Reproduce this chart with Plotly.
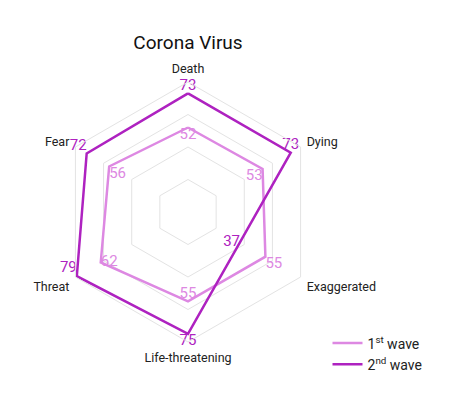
import plotly.graph_objects as go

# Data
categories = ["Death", "Dying", "Exaggerated", "Life-threatening", "Threat", "Fear"]
wave1 = [52, 53, 55, 55, 62, 56]
wave2 = [73, 73, 37, 75, 79, 72]
series_names = ["1<sup>st</sup> wave", "2<sup>nd</sup> wave"]

LIGHT = "#DD88E2"
DARK = "#AE22C0"
GRID = "#E3E3E3"
FONT = "Roboto"


def closed(values):
    return list(values) + [values[0]]


fig = go.Figure()

fig.add_trace(go.Scatterpolar(
    r=closed(wave1),
    theta=closed(categories),
    mode="lines+text",
    name=series_names[0],
    line=dict(color=LIGHT, width=2.5),
    text=[str(v) for v in wave1] + [""],
    textposition=["bottom center", "bottom left", "bottom right",
                  "top center", "middle right", "bottom right", "top center"],
    textfont=dict(color=LIGHT, size=15, family=FONT),
    cliponaxis=False,
))

fig.add_trace(go.Scatterpolar(
    r=closed(wave2),
    theta=closed(categories),
    mode="lines+text",
    name=series_names[1],
    line=dict(color=DARK, width=2.5),
    text=[str(v) for v in wave2] + [""],
    textposition=["top center", "top center", "middle left",
                  "bottom center", "top left", "top left", "top center"],
    textfont=dict(color=DARK, size=15, family=FONT),
    cliponaxis=False,
))

fig.update_layout(
    width=450,
    height=400,
    margin=dict(l=0, r=0, t=0, b=0),
    paper_bgcolor="white",
    plot_bgcolor="white",
    font=dict(family=FONT, color="#222222"),
    title=dict(
        text="Corona Virus",
        x=0.40, xanchor="center",
        y=0.915, yanchor="middle",
        font=dict(size=19, color="#111111", family=FONT),
    ),
    polar=dict(
        domain=dict(x=[0.111, 0.689], y=[0.165, 0.815]),
        bgcolor="white",
        gridshape="linear",
        radialaxis=dict(
            range=[0, 80],
            tickvals=[20, 40, 60, 80],
            showticklabels=False,
            ticks="",
            showline=False,
            gridcolor=GRID,
            gridwidth=1,
        ),
        angularaxis=dict(
            direction="clockwise",
            rotation=90,
            showgrid=False,
            showline=True,
            linecolor=GRID,
            linewidth=1,
            ticks="outside",
            ticklen=4,
            tickcolor="rgba(0,0,0,0)",
            tickfont=dict(size=12.5, color="#222222", family=FONT),
        ),
    ),
    legend=dict(
        x=0.71, xanchor="left",
        y=0.135, yanchor="middle",
        font=dict(size=14, color="#222222", family=FONT),
        itemwidth=30,
        bgcolor="rgba(0,0,0,0)",
    ),
)

fig.write_html("out.html")
